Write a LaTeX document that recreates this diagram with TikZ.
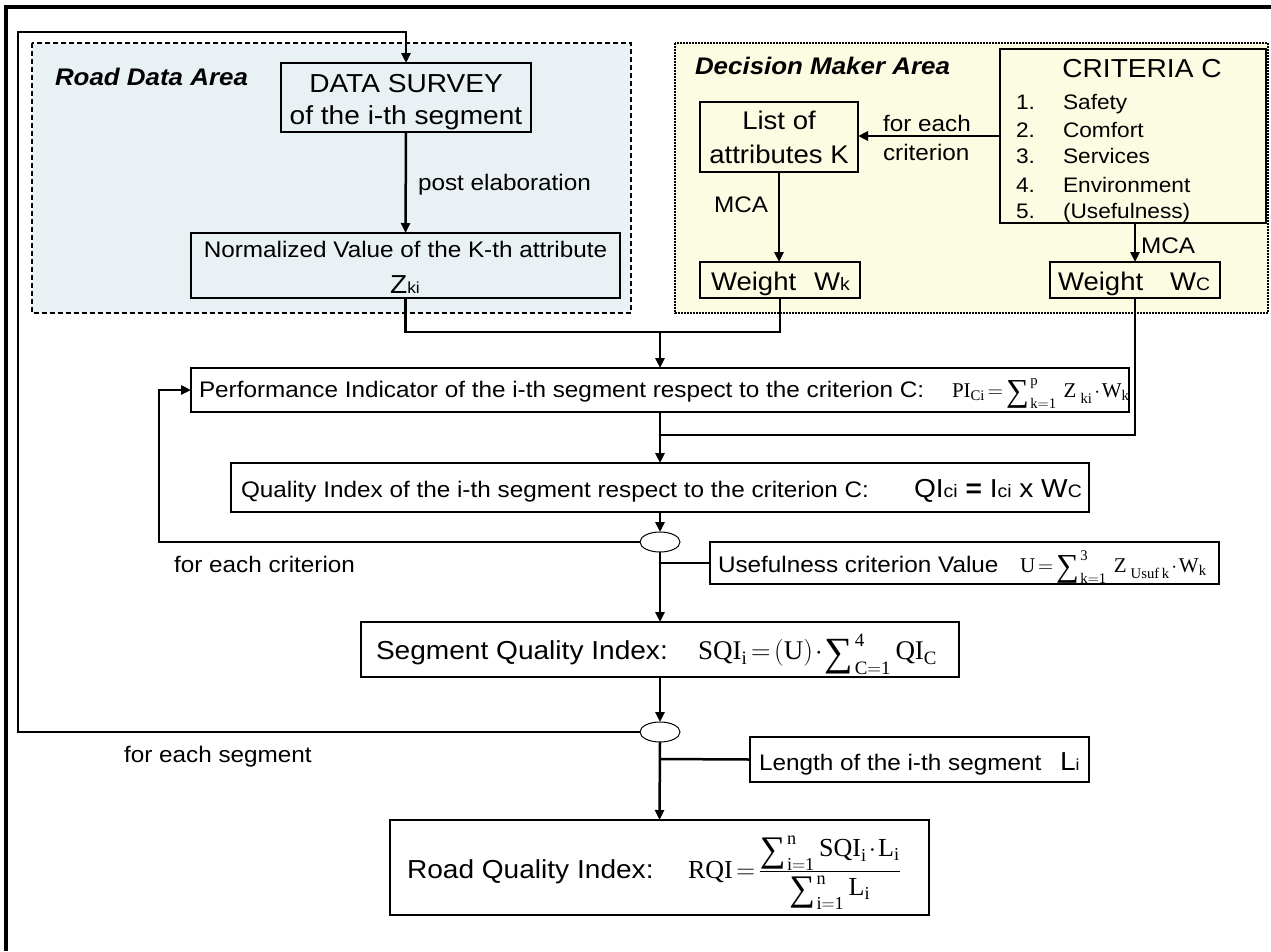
\documentclass[tikz,border=0pt]{standalone}
\usepackage{fix-cm}
\usepackage{fontspec}
\setmainfont[FakeStretch=1.08]{Liberation Sans}
\setmathrm{Liberation Serif}
\newfontfamily\tms{Liberation Serif}
\usetikzlibrary{arrows.meta,shapes.geometric}
\definecolor{roadbg}{RGB}{234,241,244}
\definecolor{dmbg}{RGB}{252,252,226}
\newcommand\fsA{\fontsize{22.5}{27}\selectfont}
\newcommand\fsB{\fontsize{26}{31}\selectfont}
\newcommand\fsC{\fontsize{21}{25}\selectfont}
\newcommand\fsW{\fontsize{25.5}{30}\selectfont}
\newcommand\fsS{\fontsize{16}{19}\selectfont}
\newcommand\fsT{\fontsize{18}{21}\selectfont}
\newcommand\fsM{\fontsize{21}{25}\selectfont}
\newcommand\fsN{\fontsize{27}{31}\selectfont}
\newcommand\fBI{\fontsize{24}{28}\selectfont\bfseries\itshape}
\newcommand\Sum[2]{\mathop{\raisebox{#2}{\tms\fontsize{#1}{#1}\selectfont\symbol{"2211}}\kern1.5pt}\nolimits}
\newcommand\lowsub[1]{\raisebox{-3pt}{$\scriptstyle\mathrm{#1}$}}
\begin{document}
\begin{tikzpicture}[x=1pt,y=-1pt,
  conn/.style={line width=2.5pt},
  arr/.style={line width=2.5pt,-{Triangle[length=10pt,width=9pt]}},
  box/.style={draw,line width=1.2pt,inner sep=0pt,outer sep=0pt,rectangle},
  oval/.style={draw,ellipse,line width=1pt,fill=white,inner sep=0pt,outer sep=0pt,minimum width=40pt,minimum height=20pt},
  lbl/.style={anchor=base west,inner sep=0pt,outer sep=0pt},
  ctr/.style={anchor=base,inner sep=0pt,outer sep=0pt},
  fml/.style={lbl,execute at begin node={\thickmuskip=2.5mu\medmuskip=1.5mu}}]
\useasboundingbox (0,0) rectangle (1271,951);
\fill[white] (0,0) rectangle (1271,951);
% areas
\draw[line width=2pt, fill=roadbg, dash pattern=on 5pt off 3pt] (32,43) rectangle (631,313);
\draw[line width=2.2pt, fill=dmbg, dash pattern=on 2pt off 1pt] (675,43) rectangle (1268,313);
% outer frame
\draw[line width=3.5pt] (6,951) -- (6,7) -- (1271,7);

% area titles
\node[lbl,font=\fBI] (rda) at (55,85) {Road Data Area};
\node[lbl,font=\fBI] (dma) at (695,74) {Decision Maker Area};

% boxes
\node[box,minimum width=250pt,minimum height=69pt] (data) at (406,97.5) {};
\node[box,minimum width=429pt,minimum height=65pt] (norm) at (405.5,265.5) {};
\node[box,minimum width=158pt,minimum height=70pt] (list) at (779,137) {};
\node[box,minimum width=266pt,minimum height=174pt] (crit) at (1133,136) {};
\node[box,minimum width=160pt,minimum height=36pt] (wk) at (780,280) {};
\node[box,minimum width=170pt,minimum height=36pt] (wc) at (1135,280) {};
\node[box,minimum width=938pt,minimum height=44pt] (pi) at (660,390) {};
\node[box,minimum width=858pt,minimum height=49pt] (qi) at (660,487.5) {};
\node[oval] (e1) at (660,542) {};
\node[box,minimum width=509pt,minimum height=42pt] (use) at (964.5,563) {};
\node[box,minimum width=598pt,minimum height=55pt] (sqi) at (660,649.5) {};
\node[oval] (e2) at (660,732) {};
\node[box,minimum width=339pt,minimum height=45pt] (len) at (919.5,759.5) {};
\node[box,minimum width=539pt,minimum height=95pt] (rqi) at (659.5,867.5) {};

% texts in boxes
\node[ctr,font=\fsB] (dt1) at (406,92) {DATA SURVEY};
\node[ctr,font=\fsB] (dt2) at (406,124) {of the i-th segment};
\node[ctr,font=\fsA] (nt1) at (405.5,257) {Normalized Value of the K-th attribute};
\node[ctr,font=\fsB] (nt2) at (405,293) {Z{\fsS ki}};
\node[ctr,font=\fsW] (lt1) at (779,129) {List of};
\node[ctr,font=\fsW] (lt2) at (779,163) {attributes K};
\node[ctr,font=\fsB] (ct0) at (1142,77) {CRITERIA C};
\foreach \n/\t/\y in {1/Safety/109,2/Comfort/137,3/Services/163,4/Environment/192,5/(Usefulness)/218}{
  \node[lbl,font=\fsC] (cn\n) at (1016,\y) {\n.};
  \node[lbl,font=\fsC] (ci\n) at (1063,\y) {\t};
}
\node[lbl,font=\fsW] (wkt) at (711,290) {Weight};
\node[lbl,font=\fsW] (wks) at (814,290) {W{\fsT k}};
\node[lbl,font=\fsW] (wct) at (1058,290) {Weight};
\node[lbl,font=\fsW] (wcs) at (1170,290) {W{\fsT C}};
\node[lbl,font=\fsA] (pit) at (199,397) {Performance Indicator of the i-th segment respect to the criterion C:};
\node[fml,font=\fsM] (pif) at (952,397) {$\mathrm{PI}_{\mathrm{Ci}}=\Sum{32}{-4pt}_{\mathrm{k=1}}^{\mathrm{p}}\,\mathrm{Z}_{\mkern5mu\lowsub{ki}}\cdot\mathrm{W}_{\mathrm{k}}$};
\node[lbl,font=\fsA] (qit) at (241,497) {Quality Index of the i-th segment respect to the criterion C:};
\node[anchor=base east,inner sep=0pt,font=\fsB] (qif) at (1082,497) {QI{\fsT ci} \textbf{=} I{\fsT ci} x W{\fsT C}};
\node[lbl,font=\fsA] (ut) at (718,572) {Usefulness criterion Value};
\node[fml,font=\fsM] (uf) at (1020,572) {$\mathrm{U}=\Sum{32}{-4pt}_{\mathrm{k=1}}^{\mathrm{3}}\,\mathrm{Z}_{\mkern5mu\lowsub{Usuf\,k}}\cdot\mathrm{W}_{\mathrm{k}}$};
\node[lbl,font=\fsB] (st) at (376,659) {Segment Quality Index:};
\node[fml,font=\fsN] (sf) at (698,659) {$\mathrm{SQI}_{\mathrm{i}}=(\mathrm{U})\cdot\Sum{40}{-6pt}_{\mathrm{C=1}}^{\mathrm{4}}\mathrm{QI}_{\mathrm{C}}$};
\node[lbl,font=\fsA] (lt) at (759,770) {Length of the i-th segment};
\node[lbl,font=\fsB] (ls) at (1060,770) {L{\fsS i}};
\node[lbl,font=\fsB] (rt) at (407,878) {Road Quality Index:};
\node[fml,font=\fsB] (rf) at (688,878) {$\displaystyle\mathrm{RQI}=\frac{\Sum{36}{-5pt}_{\mathrm{i=1}}^{\mathrm{n}}\mathrm{SQI}_{\mathrm{i}}\cdot\mathrm{L}_{\mathrm{i}}}{\Sum{36}{-5pt}_{\mathrm{i=1}}^{\mathrm{n}}\mathrm{L}_{\mathrm{i}}}$};

% connector labels
\node[lbl,font=\fsA] (pel) at (418,190) {post elaboration};
\node[lbl,font=\fsA] (fe1) at (883,131) {for each};
\node[lbl,font=\fsA] (fe2) at (883,160) {criterion};
\node[lbl,font=\fsA] (mca1) at (714,212) {MCA};
\node[lbl,font=\fsA] (mca2) at (1141,253) {MCA};
\node[lbl,font=\fsA] (fec) at (174,572) {for each criterion};
\node[lbl,font=\fsA] (fes) at (124,762) {for each segment};

% helper coordinates
\coordinate (j1) at (660,332);
\coordinate (j2) at (660,435);
\coordinate (b1) at (660,563);
\coordinate (b2) at (660,759);
\coordinate (lpS) at (18,32);
\coordinate (lpC) at (159,390);

% connectors
\draw[arr] (e2.west) -| (lpS) -| (data.north);
\draw[arr] (data.south) -- (norm.north);
\draw[arr] (crit.west) -- (crit.west -| list.east);
\draw[arr] (list.south) -- (list.south |- wk.north);
\draw[arr] (wc.north |- crit.south) -- (wc.north);
\draw[conn] (norm.south) |- (j1) -| (wk.south);
\draw[arr] (j1) -- (pi.north);
\draw[conn] (wc.south) |- (j2);
\draw[arr] (pi.south) -- (qi.north);
\draw[arr] (qi.south) -- (e1.north);
\draw[arr] (e1.west) -| (lpC) -- (pi.west);
\draw[arr] (e1.south) -- (sqi.north);
\draw[conn] (b1) -- (use.west);
\draw[arr] (sqi.south) -- (e2.north);
\draw[arr] (e2.south) -- (rqi.north);
\draw[conn] (b2) -- (len.west);
\end{tikzpicture}
\end{document}
